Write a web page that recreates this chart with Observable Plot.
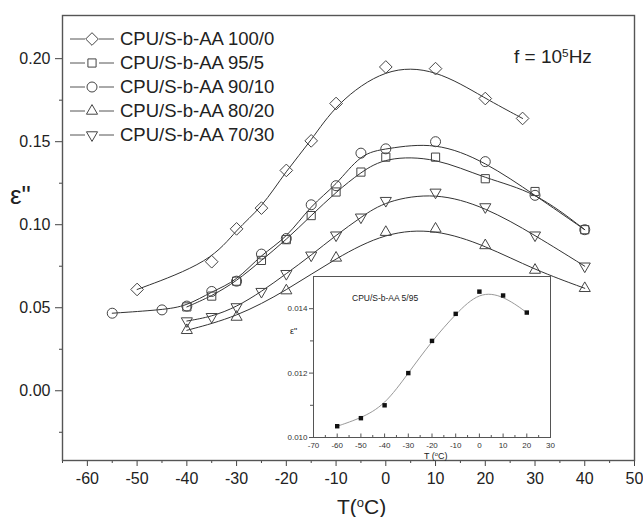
<!DOCTYPE html>
<html>
<head>
<meta charset="utf-8">
<script src="https://cdn.jsdelivr.net/npm/d3@7"></script>
<script src="https://cdn.jsdelivr.net/npm/@observablehq/plot@0.6"></script>
<style>
  body { margin: 0; background: #fff; }
  #wrap { position: relative; width: 643px; height: 517px; font-family: "Liberation Sans", Arial, sans-serif; color: #222; }
  .ov { position: absolute; white-space: nowrap; line-height: 1; }
  sup { font-size: 0.62em; vertical-align: 0.55em; line-height: 0; }
</style>
</head>
<body>
<div id="wrap"></div>
<script>
// ---- Data ----
const seriesNames = ["CPU/S-b-AA 100/0", "CPU/S-b-AA 95/5", "CPU/S-b-AA 90/10", "CPU/S-b-AA 80/20", "CPU/S-b-AA 70/30"];

const T100 = [-50, -35, -30, -25, -20, -15, -10, 0, 10, 20, 27.5];
const E100 = [0.061, 0.0777, 0.0975, 0.110, 0.1327, 0.1505, 0.173, 0.195, 0.194, 0.176, 0.164];

const T95 = [-40, -35, -30, -25, -20, -15, -10, -5, 0, 10, 20, 30, 40];
const E95 = [0.0505, 0.057, 0.066, 0.0785, 0.091, 0.1055, 0.1197, 0.1317, 0.1407, 0.1407, 0.1277, 0.120, 0.097];

const T90 = [-55, -45, -40, -35, -30, -25, -20, -15, -10, -5, 0, 10, 20, 30, 40];
const E90 = [0.0467, 0.0487, 0.051, 0.0598, 0.066, 0.0823, 0.0917, 0.112, 0.1235, 0.1431, 0.1457, 0.150, 0.138, 0.1177, 0.097];

const T80 = [-40, -30, -20, -10, 0, 10, 20, 30, 40];
const E80 = [0.0364, 0.0444, 0.0603, 0.080, 0.0955, 0.0975, 0.0875, 0.0727, 0.0617];

const T70 = [-40, -35, -30, -25, -20, -15, -10, -5, 0, 10, 20, 30, 40];
const E70 = [0.042, 0.0446, 0.0505, 0.0597, 0.0705, 0.0816, 0.0937, 0.1045, 0.1145, 0.1195, 0.1107, 0.0937, 0.075];

const xMajorTicks = [-60, -50, -40, -30, -20, -10, 0, 10, 20, 30, 40, 50];
const xMinorTicks = [-65, -55, -45, -35, -25, -15, -5, 5, 15, 25, 35, 45];
const yMajorTicks = [0.00, 0.05, 0.10, 0.15, 0.20];
const yMinorTicks = [-0.025, 0.025, 0.075, 0.125, 0.175];

// inset
const insetTitle = "CPU/S-b-AA 5/95";
const insetT = [-60, -50, -40, -30, -20, -10, 0, 10, 20];
const insetE = [0.01035, 0.0106, 0.0110, 0.0120, 0.0130, 0.01384, 0.01453, 0.01441, 0.01388];
const insetXTicks = [-70, -60, -50, -40, -30, -20, -10, 0, 10, 20, 30];
const insetXMinor = [-65, -55, -45, -35, -25, -15, -5, 5, 15, 25];
const insetYTicks = [0.010, 0.012, 0.014];
const insetYMinor = [0.011, 0.013];

// ---- symbols ----
const triDown = {
  draw(ctx, size) {
    const s = Math.sqrt(size) * 0.6824, t = s / 2, u = s * Math.sqrt(3) / 2;
    ctx.moveTo(0, s); ctx.lineTo(u, -t); ctx.lineTo(-u, -t); ctx.closePath();
  }
};
const seriesT = [T100, T95, T90, T80, T70];
const seriesE = [E100, E95, E90, E80, E70];
const symName = ["diamond2", "square2", "circle", "triangle2", triDown];
const d3Sym = [d3.symbolDiamond2, d3.symbolSquare2, d3.symbolCircle, d3.symbolTriangle2, triDown];
const symR = [5.7, 5.2, 5, 5.3, 5.3];

const series = seriesNames.map((name, i) => seriesT[i].map((t, j) => ({t, e: seriesE[i][j]})));

const font = "'Liberation Sans', Arial, sans-serif";
const wrap = document.getElementById("wrap");

const marks = [];
series.forEach((rows, i) => {
  marks.push(Plot.line(rows, {x: "t", y: "e", curve: "basis", stroke: "#333", strokeWidth: 1}));
});
series.forEach((rows, i) => {
  marks.push(Plot.dot(rows, {x: "t", y: "e", symbol: symName[i], r: symR[i], stroke: "#444", strokeWidth: 1, fill: "none"}));
});

const main = Plot.plot({
  width: 643, height: 517,
  marginLeft: 62, marginRight: 9, marginTop: 15, marginBottom: 57,
  style: {fontFamily: font, fontSize: "16px", color: "#222", background: "white"},
  x: {domain: [-65, 50]},
  y: {domain: [-0.042, 0.226]},
  marks: [
    Plot.axisX({ticks: xMajorTicks, tickSize: 6, tickPadding: 6, tickFormat: d => String(d), label: null, stroke: "#444"}),
    Plot.axisX({ticks: xMinorTicks, tickSize: 3, tickFormat: () => "", label: null, stroke: "#444"}),
    Plot.axisY({ticks: yMajorTicks, tickSize: 7, tickPadding: 5, tickFormat: d3.format(".2f"), label: null, stroke: "#444"}),
    Plot.axisY({ticks: yMinorTicks, tickSize: 3, tickFormat: () => "", label: null, stroke: "#444"}),
    ...marks,
    Plot.frame({stroke: "#555", strokeWidth: 1.4})
  ]
});
main.style.position = "absolute"; main.style.left = "0px"; main.style.top = "0px";
wrap.appendChild(main);

// ---- inset ----
const insetRows = insetT.map((t, j) => ({t, e: insetE[j]}));
const iw = 300, ih = 200, iml = 51, imr = 12, imt = 6, imb = 33;
const innerH = ih - imt - imb;
const inset = Plot.plot({
  width: iw, height: ih,
  marginLeft: iml, marginRight: imr, marginTop: imt, marginBottom: imb,
  style: {fontFamily: font, fontSize: "8px", color: "#333", background: "transparent", overflow: "visible"},
  x: {domain: [-70, 30]},
  y: {domain: [0.010, 0.015]},
  marks: [
    Plot.frame({fill: "white", stroke: "#555", strokeWidth: 1}),
    Plot.axisX({ticks: insetXTicks, tickSize: 0, tickPadding: 5, tickFormat: d => String(d), label: null}),
    Plot.tickX(insetXTicks, {x: d => d, insetTop: innerH - 3.5, stroke: "#555"}),
    Plot.tickX(insetXMinor, {x: d => d, insetTop: innerH - 2, stroke: "#555"}),
    Plot.axisY({ticks: insetYTicks, tickSize: 4, tickPadding: 2, tickFormat: d3.format(".3f"), label: null, stroke: "#555"}),
    Plot.axisY({ticks: insetYMinor, tickSize: 3, tickFormat: () => "", label: null, stroke: "#555"}),
    Plot.line(insetRows, {x: "t", y: "e", curve: "basis", stroke: "#999", strokeWidth: 1}),
    Plot.dot(insetRows, {x: "t", y: "e", symbol: "square", r: 2.5, fill: "#111", stroke: "none"}),
    Plot.frame({stroke: "#555", strokeWidth: 1})
  ]
});
inset.style.position = "absolute"; inset.style.left = "262px"; inset.style.top = "270px";
wrap.appendChild(inset);

// ---- overlays ----
function ov(html, left, top, size, extra) {
  const d = document.createElement("div");
  d.className = "ov";
  d.innerHTML = html;
  d.style.left = left + "px"; d.style.top = top + "px"; d.style.fontSize = size + "px";
  if (extra) Object.assign(d.style, extra);
  wrap.appendChild(d);
  return d;
}
ov('f = 10<sup>5</sup>Hz', 514, 47, 19);
ov('T(<sup>o</sup>C)', 337, 496, 21);
ov('&epsilon;"', 10, 182, 26);
ov(insetTitle, 352, 294, 8.5);
ov('T (<sup>o</sup>C)', 424, 452, 9);
ov('&epsilon;"', 290, 327, 9);

// ---- legend ----
const lg = d3.select(wrap).append("svg")
  .attr("width", 300).attr("height", 130)
  .style("position", "absolute").style("left", "62px").style("top", "25px").style("overflow", "visible");
const rowY = 14, rowStep = 24;
seriesNames.forEach((name, i) => {
  const g = lg.append("g").attr("transform", `translate(0,${rowY + i * rowStep})`);
  g.append("line").attr("x1", 8).attr("x2", 23).attr("y1", 0).attr("y2", 0).attr("stroke", "#555");
  g.append("line").attr("x1", 37).attr("x2", 52).attr("y1", 0).attr("y2", 0).attr("stroke", "#555");
  g.append("path").attr("transform", "translate(30,0)")
    .attr("d", d3.symbol(d3Sym[i], Math.PI * symR[i] * symR[i])())
    .attr("fill", "none").attr("stroke", "#444");
  g.append("text").attr("x", 58).attr("y", 0).attr("dy", "0.35em")
    .attr("font-family", font).attr("font-size", 18.5).attr("fill", "#222").text(name);
});
</script>
</body>
</html>
